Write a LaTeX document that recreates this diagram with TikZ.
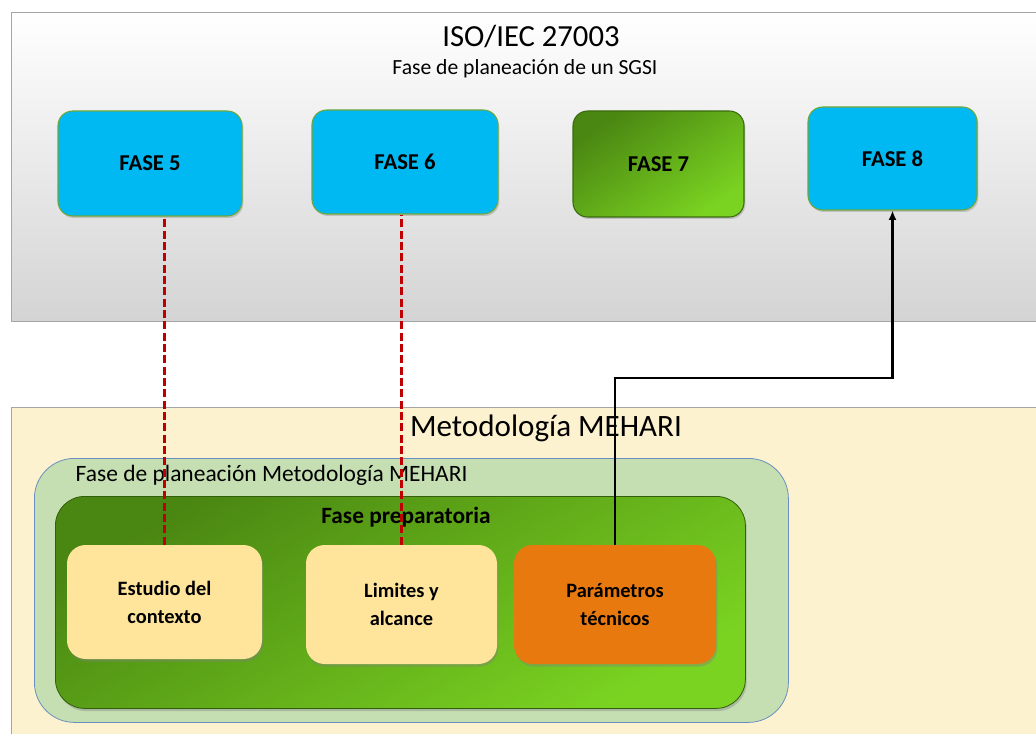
\documentclass[tikz,border=0pt]{standalone}
\usepackage{fontspec}
\setmainfont{Carlito}
\usetikzlibrary{shadows,arrows.meta}

\definecolor{panelgray}{HTML}{A6A6A6}
\definecolor{cream}{HTML}{FDF2CF}
\definecolor{sage}{HTML}{C5DFB3}
\definecolor{sageline}{HTML}{6A8FBF}
\definecolor{skyblue}{HTML}{00B9F2}
\definecolor{skyedge}{HTML}{6FA83A}
\definecolor{darkgreen}{HTML}{4A8612}
\definecolor{litegreen}{HTML}{7AD321}
\definecolor{sand}{HTML}{FFE59C}
\definecolor{orangebox}{HTML}{E8790E}
\definecolor{dashred}{HTML}{C00000}

\tikzset{
  phase/.style={draw=skyedge, line width=0.8pt, rounded corners=11pt, inner sep=0pt,
    font=\fontsize{17}{20}\selectfont\bfseries,
    drop shadow={opacity=0.35, shadow xshift=1pt, shadow yshift=-1.5pt}},
  bluephase/.style={phase, fill=skyblue},
  greenphase/.style={phase, draw=darkgreen!80!black, top color=darkgreen, bottom color=litegreen, shading angle=35},
  stepcard/.style={rounded corners=14pt, inner sep=0pt, align=center,
    font=\fontsize{15.3}{21}\selectfont\bfseries,
    drop shadow={opacity=0.4, shadow xshift=1pt, shadow yshift=-2pt}},
  link/.style={dashred, line width=2pt, dash pattern=on 6pt off 2.5pt},
  flow/.style={black, line width=1.9pt, -{Latex[length=7pt,width=6pt]}}
}

\begin{document}
\begin{tikzpicture}[x=0.75pt, y=-0.75pt]
\clip (0,0) rectangle (1036,734);
\fill[white] (0,0) rectangle (1036,734);

% ISO/IEC 27003 panel
\node[draw=panelgray, line width=0.8pt, top color=white, bottom color=black!17,
  minimum width=1040*0.75pt, minimum height=309*0.75pt, anchor=north west, inner sep=0pt]
  (iso) at (11,12) {};
\node[font=\fontsize{23}{26}\selectfont] (isotitle) at (531,37) {ISO/IEC 27003};
\node[font=\fontsize{16.2}{19}\selectfont] (isosub) at (525,69) {Fase de planeación de un SGSI};

\node[bluephase, minimum width=138pt, minimum height=78.75pt] (f5) at (150,163.5) {FASE 5};
\node[bluephase, minimum width=139.5pt, minimum height=78pt] (f6) at (405,162) {FASE 6};
\node[greenphase, minimum width=128.25pt, minimum height=79.5pt] (f7) at (658.5,164) {FASE 7};
\node[bluephase, minimum width=126.75pt, minimum height=77.25pt] (f8) at (892.5,158.5) {FASE 8};

% MEHARI panel
\node[draw=panelgray, line width=0.8pt, fill=cream,
  minimum width=1040*0.75pt, minimum height=340*0.75pt, anchor=north west, inner sep=0pt]
  (mehari) at (11,407) {};
\node[font=\fontsize{23.3}{26}\selectfont] (mehtitle) at (546,428) {Metodología MEHARI};

\node[draw=sageline, line width=0.6pt, fill=sage, rounded corners=30pt,
  minimum width=754*0.75pt, minimum height=264*0.75pt, anchor=north west, inner sep=0pt]
  (plan) at (34,458) {};
\node[font=\fontsize{17.6}{20}\selectfont, anchor=west] (plantitle) at (71,475) {Fase de planeación Metodología MEHARI};

\node[draw=darkgreen!70!black, line width=0.6pt, rounded corners=22pt,
  top color=darkgreen, bottom color=litegreen, shading angle=30,
  minimum width=690*0.75pt, minimum height=212*0.75pt, anchor=north west, inner sep=0pt,
  drop shadow={opacity=0.4, shadow xshift=1pt, shadow yshift=-2pt}]
  (prep) at (55,496) {};
\node[font=\fontsize{17.5}{20}\selectfont\bfseries] (preptitle) at (406,517) {Fase preparatoria};

\node[stepcard, fill=sand, minimum width=195*0.75pt, minimum height=114*0.75pt] (est) at (164.5,602) {Estudio del\\contexto};
\node[stepcard, fill=sand, minimum width=191*0.75pt, minimum height=119*0.75pt] (lim) at (401.5,604.5) {Limites y\\alcance};
\node[stepcard, fill=orangebox, minimum width=202*0.75pt, minimum height=119*0.75pt] (par) at (615,604.5) {Parámetros\\técnicos};

% connectors
\draw[link] (est.north) -- (est.north |- f5.south);
\draw[link] (lim.north) -- (lim.north |- f6.south);
\coordinate (bend) at (615,378);
\draw[flow] (par.north) -- (bend) -| (f8.south);
\end{tikzpicture}
\end{document}
